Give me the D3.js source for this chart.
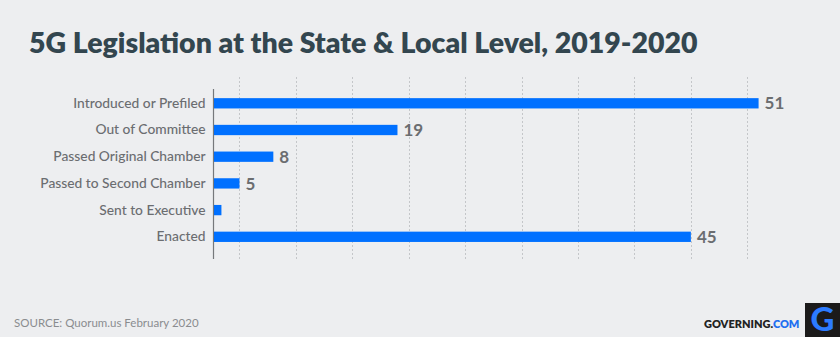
<!DOCTYPE html>
<html>
<head>
<meta charset="utf-8">
<script src="https://cdn.jsdelivr.net/npm/d3@7"></script>
<style>
  html, body { margin: 0; padding: 0; background: #edeef0; }
  svg { display: block; }
</style>
</head>
<body>
<svg id="chart" width="840" height="337"></svg>
<script>
// Stages of 5G bills moving through state and local legislatures
const stages = [
  "Introduced or Prefiled",
  "Out of Committee",
  "Passed Original Chamber",
  "Passed to Second Chamber",
  "Sent to Executive",
  "Enacted"
];
const billCounts = [51, 19, 8, 5, 3.4, 45];
const valueLabels = ["51", "19", "8", "5", "", "45"];
const gridValues = [5, 10, 15, 20, 25, 30, 35, 40, 45, 50];

const titleText = "5G Legislation at the State & Local Level, 2019-2020";
const sourceText = "SOURCE: Quorum.us February 2020";

const W = 840, H = 337;
const svg = d3.select("#chart");

svg.append("rect").attr("width", W).attr("height", H).attr("fill", "#edeef0");

// Title
svg.append("text")
  .attr("x", 29).attr("y", 52.5)
  .attr("font-family", "Lato, 'Open Sans', sans-serif")
  .attr("font-weight", 800)
  .attr("font-size", 28.5)
  .attr("fill", "#33464f")
  .text(titleText);

// Scales: the value axis starts just above zero
const x = d3.scaleLinear().domain([2.68, 50]).range([213.3, 747.3]);
const y = d3.scaleBand()
  .domain(stages)
  .range([89.95, 250.15])
  .paddingInner(0.614)
  .paddingOuter(0.307);

// Dotted vertical gridlines
svg.append("g")
  .selectAll("line")
  .data(gridValues)
  .join("line")
  .attr("x1", d => Math.round(x(d)) + 0.5)
  .attr("x2", d => Math.round(x(d)) + 0.5)
  .attr("y1", 77)
  .attr("y2", 259)
  .attr("stroke", "#c4c6c9")
  .attr("stroke-width", 1)
  .attr("stroke-dasharray", "2,2");

// Category axis on the left
const yAxis = d3.axisLeft(y).tickSize(0).tickPadding(8);
const gy = svg.append("g")
  .attr("transform", `translate(${Math.round(x.range()[0]) + 0.5},0)`)
  .call(yAxis);
gy.select(".domain").remove();
gy.selectAll("text")
  .attr("font-family", "Lato, 'Open Sans', sans-serif")
  .attr("font-size", 13.8)
  .attr("font-weight", 500)
  .attr("fill", "#6b6d70");

svg.append("line")
  .attr("x1", Math.round(x.range()[0]) + 0.5)
  .attr("x2", Math.round(x.range()[0]) + 0.5)
  .attr("y1", 89)
  .attr("y2", 259)
  .attr("stroke", "#76787b")
  .attr("stroke-width", 1.2);

const rows = stages.map((s, i) => ({ stage: s, value: billCounts[i], label: valueLabels[i] }));

// Bars
svg.append("g")
  .selectAll("rect")
  .data(rows)
  .join("rect")
  .attr("x", x.range()[0] + 0.7)
  .attr("y", d => y(d.stage))
  .attr("width", d => x(d.value) - x.range()[0] - 0.7)
  .attr("height", y.bandwidth())
  .attr("fill", "#0070ff");

// Value labels
svg.append("g")
  .selectAll("text")
  .data(rows.filter(d => d.label !== ""))
  .join("text")
  .attr("x", d => x(d.value) + 6)
  .attr("y", d => y(d.stage) + y.bandwidth() / 2)
  .attr("dy", "0.36em")
  .attr("font-family", "Lato, 'Open Sans', sans-serif")
  .attr("font-weight", 700)
  .attr("font-size", 17)
  .attr("fill", "#6b6d70")
  .text(d => d.label);

// Source note
svg.append("text")
  .attr("x", 14).attr("y", 327)
  .attr("font-family", "Lato, 'Open Sans', sans-serif")
  .attr("font-size", 11.5)
  .attr("fill", "#8a8c8f")
  .text(sourceText);

// Brand wordmark
const brand = svg.append("text")
  .attr("x", 704).attr("y", 328)
  .attr("font-family", "Lato, 'Open Sans', sans-serif")
  .attr("font-weight", 800)
  .attr("font-size", 11)
  .attr("fill", "#222");
brand.append("tspan").text("GOVERNING.");
brand.append("tspan").attr("fill", "#1f6ff0").text("COM");

svg.append("rect")
  .attr("x", 805).attr("y", 303)
  .attr("width", 35).attr("height", 34)
  .attr("fill", "#1b1a1a");
svg.append("text")
  .attr("x", 822.5).attr("y", 331)
  .attr("text-anchor", "middle")
  .attr("font-family", "Lato, 'Open Sans', sans-serif")
  .attr("font-weight", 900)
  .attr("font-size", 33)
  .attr("fill", "#2c7bff")
  .text("G");
</script>
</body>
</html>
